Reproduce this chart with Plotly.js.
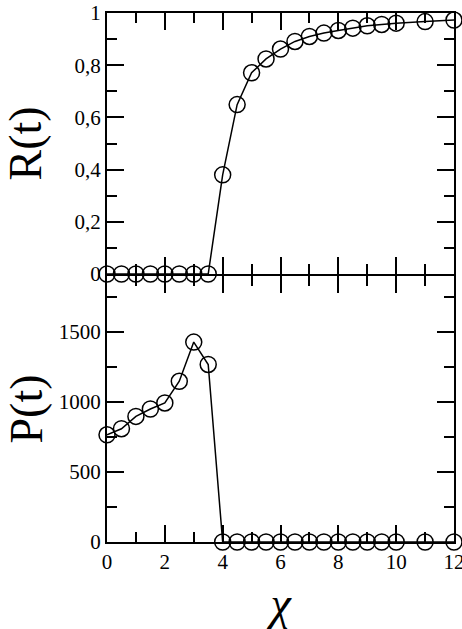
<!DOCTYPE html>
<html>
<head>
<meta charset="utf-8">
<script src="https://cdn.plot.ly/plotly-3.0.1.min.js"></script>
<style>html,body{margin:0;padding:0;background:#fff;} .fig{width:462px;height:629px;}</style>
</head>
<body>
<div id="figA" class="fig"></div>
<script>
const chi = [0, 0.5, 1, 1.5, 2, 2.5, 3, 3.5, 4, 4.5, 5, 5.5, 6, 6.5, 7, 7.5, 8, 8.5, 9, 9.5, 10, 11, 12];
const R = [0, 0, 0, 0, 0, 0, 0, 0, 0.38, 0.649, 0.771, 0.824, 0.862, 0.891, 0.91, 0.923, 0.933, 0.942, 0.951, 0.956, 0.961, 0.967, 0.973];
const P = [766, 809, 897, 950, 993, 1148, 1428, 1268, 0, 0, 0, 0, 0, 0, 0, 0, 0, 0, 0, 0, 0, 0, 0];

const fam = 'Liberation Serif';
const mk = {symbol: 'circle-open', size: 16, color: '#000', line: {width: 1.5, color: '#000'}};
const ln = {color: '#000', width: 1.5};

const traces = [
  {x: chi, y: R, xaxis: 'x2', yaxis: 'y', mode: 'lines+markers', marker: mk, line: ln, cliponaxis: false, showlegend: false},
  {x: chi, y: P, xaxis: 'x', yaxis: 'y2', mode: 'lines+markers', marker: mk, line: ln, cliponaxis: false, showlegend: false}
];

const axBase = {
  showline: true, linecolor: '#000', linewidth: 2, mirror: 'allticks',
  ticks: 'inside', tickcolor: '#000', tickwidth: 2, ticklen: 17,
  showgrid: false, zeroline: false, ticklabeloverflow: 'allow',
  tickfont: {family: fam, size: 21, color: '#000'}
};
const plotH = 629 - 13 - 87;
const split = (542 - 276) / plotH;
const gap = 2 / plotH;

const layout = {
  width: 462, height: 629,
  margin: {l: 107, r: 8, t: 13, b: 87},
  separators: ', ',
  font: {family: fam, color: '#000'},
  xaxis: Object.assign({}, axBase, {
    anchor: 'y2', range: [0, 12], dtick: 2, tick0: 0,
    minor: {ticks: 'inside', dtick: 1, ticklen: 10, tickwidth: 2, tickcolor: '#000'},
    title: {text: 'χ', font: {family: fam, size: 46, color: '#000', style: 'italic'}, standoff: 14}
  }),
  xaxis2: Object.assign({}, axBase, {
    anchor: 'y', matches: 'x', range: [0, 12], dtick: 2, tick0: 0, showticklabels: false,
    minor: {ticks: 'inside', dtick: 1, ticklen: 10, tickwidth: 2, tickcolor: '#000'}
  }),
  yaxis: Object.assign({}, axBase, {
    domain: [split + gap, 1], anchor: 'x2', range: [0, 1], dtick: 0.2, tick0: 0,
    minor: {ticks: 'inside', dtick: 0.1, ticklen: 10, tickwidth: 2, tickcolor: '#000'},
    title: {text: 'R(t)', font: {family: fam, size: 46, color: '#000'}, standoff: 24}
  }),
  yaxis2: Object.assign({}, axBase, {
    domain: [0, split], anchor: 'x', range: [0, 1900], dtick: 500, tick0: 0,
    minor: {ticks: 'inside', dtick: 250, ticklen: 10, tickwidth: 2, tickcolor: '#000'},
    title: {text: 'P(t)', font: {family: fam, size: 46, color: '#000'}, standoff: 2}
  })
};

Plotly.newPlot('figA', traces, layout, {displayModeBar: false, staticPlot: true});
</script>
</body>
</html>
